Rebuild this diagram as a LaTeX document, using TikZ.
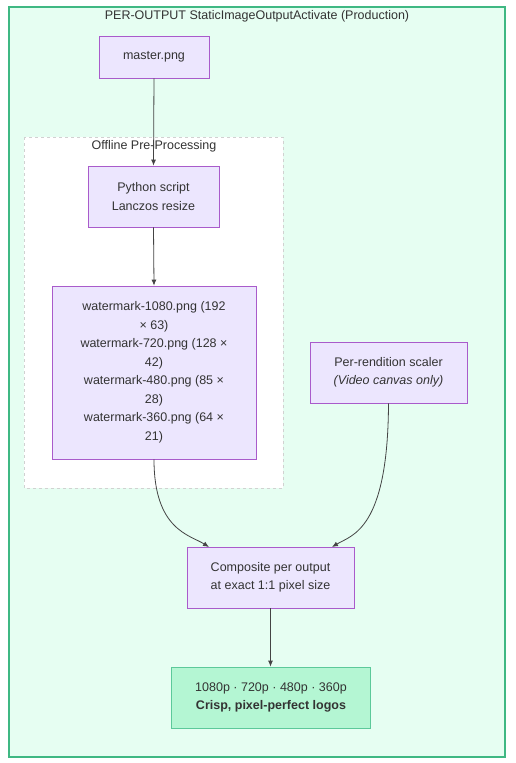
\documentclass[tikz,border=0pt]{standalone}
\usepackage{fontspec}
\setmainfont{Liberation Sans}
\usetikzlibrary{arrows.meta}
\definecolor{outerfill}{HTML}{E6FEF2}
\definecolor{outerdraw}{HTML}{3FB883}
\definecolor{nodefill}{HTML}{ECE6FE}
\definecolor{nodedraw}{HTML}{A95BCB}
\definecolor{txt}{HTML}{333333}
\definecolor{finfill}{HTML}{B4F6D3}
\definecolor{findraw}{HTML}{5CC99A}
\definecolor{edgec}{HTML}{444444}
\begin{document}
\begin{tikzpicture}[x=1pt,y=-1pt,
  every node/.style={text=txt,font=\fontsize{12.5}{18.5}\selectfont},
  box/.style={draw=nodedraw,fill=nodefill,line width=0.8pt,align=center,inner sep=0pt},
  finbox/.style={draw=findraw,fill=finfill,line width=0.8pt,align=center,inner sep=0pt},
  conn/.style={draw=edgec,line width=0.8pt,-{Latex[length=6pt,width=5pt]}}]
\useasboundingbox (0,0) rectangle (515,763);
\fill[white] (0,0) rectangle (515,763);
% outer cluster
\fill[outerfill] (9,7) rectangle (505,757);
\draw[color=outerdraw,line width=1.4pt] (9,7) rectangle (505,757);
\node[anchor=center] (t1) at (257,16.5) {PER-OUTPUT StaticImageOutputActivate (Production)};
% offline cluster
\draw[draw=black!18,fill=white,dashed,line width=0.8pt] (24,137) rectangle (283,488);
\node (t2) at (154,146.5) {Offline Pre-Processing};
% nodes
\node[box,minimum width=110pt,minimum height=42pt] (master) at (154,57) {master.png};
\node[box,minimum width=131pt,minimum height=61pt] (py) at (153.5,196.5) {Python script\\Lanczos resize};
\node[box,minimum width=204pt,minimum height=173pt] (wm) at (154,372.5) {watermark-1080.png (192\\× 63)\\watermark-720.png (128 ×\\42)\\watermark-480.png (85 ×\\28)\\watermark-360.png (64 ×\\21)};
\node[box,minimum width=157pt,minimum height=61pt] (sc) at (388.5,372.5) {Per-rendition scaler\\\textit{(Video canvas only)}};
\node[box,minimum width=167pt,minimum height=61pt] (comp) at (270.5,577.5) {Composite per output\\at exact 1:1 pixel size};
\node[finbox,minimum width=199pt,minimum height=61pt] (fin) at (271,697.5) {1080p · 720p · 480p · 360p\\\textbf{Crisp, pixel-perfect logos}};
% edges
\draw[conn] (master.south) -- (py.north);
\draw[conn] (py.south) -- (wm.north);
\coordinate (c1) at (209,547);
\coordinate (c2) at (332,547);
\draw[conn] (wm.south) .. controls (154,530) and (190,535) .. (c1);
\draw[conn] (sc.south) .. controls (388,530) and (352,535) .. (c2);
\draw[conn] (comp.south) -- (comp.south |- fin.north);
\end{tikzpicture}
\end{document}
